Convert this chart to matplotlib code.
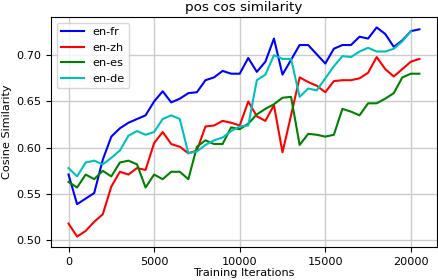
import numpy as np
import matplotlib
matplotlib.use("Agg")
import matplotlib.pyplot as plt

plt.rcParams.update({
    "font.family": "DejaVu Sans",
    "font.size": 8.1,
    "axes.titlesize": 9.7,
    "axes.labelsize": 8.1,
    "xtick.labelsize": 8.1,
    "ytick.labelsize": 8.1,
    "legend.fontsize": 8.1,
})

steps = np.arange(0, 20501, 500)

en_fr = [0.571, 0.539, 0.545, 0.551, 0.587, 0.612, 0.621, 0.627, 0.631, 0.635,
         0.650, 0.661, 0.649, 0.653, 0.659, 0.660, 0.673, 0.676, 0.683, 0.680,
         0.680, 0.697, 0.682, 0.693, 0.718, 0.679, 0.695, 0.711, 0.711, 0.701,
         0.691, 0.707, 0.711, 0.711, 0.720, 0.718, 0.730, 0.723, 0.709, 0.716,
         0.726, 0.728]
en_zh = [0.518, 0.504, 0.510, 0.520, 0.528, 0.558, 0.574, 0.571, 0.578, 0.576,
         0.605, 0.617, 0.604, 0.601, 0.594, 0.597, 0.623, 0.624, 0.629, 0.627,
         0.624, 0.650, 0.634, 0.629, 0.646, 0.595, 0.635, 0.676, 0.671, 0.667,
         0.660, 0.672, 0.673, 0.673, 0.675, 0.681, 0.698, 0.685, 0.677, 0.685,
         0.693, 0.696]
en_es = [0.563, 0.557, 0.571, 0.566, 0.575, 0.569, 0.584, 0.586, 0.582, 0.557,
         0.571, 0.566, 0.574, 0.574, 0.566, 0.601, 0.608, 0.604, 0.604, 0.622,
         0.620, 0.626, 0.636, 0.642, 0.647, 0.654, 0.655, 0.603, 0.615, 0.614,
         0.612, 0.614, 0.642, 0.639, 0.635, 0.648, 0.648, 0.653, 0.659, 0.676,
         0.680, 0.680]
en_de = [0.578, 0.569, 0.584, 0.586, 0.582, 0.589, 0.597, 0.613, 0.618, 0.614,
         0.617, 0.631, 0.635, 0.631, 0.594, 0.596, 0.603, 0.608, 0.611, 0.618,
         0.623, 0.624, 0.673, 0.679, 0.700, 0.696, 0.696, 0.655, 0.664, 0.662,
         0.675, 0.688, 0.699, 0.698, 0.704, 0.708, 0.704, 0.704, 0.707, 0.715,
         0.726]

fig = plt.figure(figsize=(4.38, 2.80), dpi=100)
ax = fig.add_axes([0.1164, 0.1179, 0.8813, 0.8214])

ax.plot(steps, en_fr, "b-", linewidth=1.5, label="en-fr")
ax.plot(steps, en_zh, "r-", linewidth=1.5, label="en-zh")
ax.plot(steps, en_es, "g-", linewidth=1.5, label="en-es")
ax.plot(steps[:len(en_de)], en_de, "c-", linewidth=1.5, label="en-de")

ax.set_xticks([0, 5000, 10000, 15000, 20000])
ax.set_yticks([0.50, 0.55, 0.60, 0.65, 0.70])
ax.grid(color="#cccccc", linewidth=1.0)
ax.set_axisbelow(True)
ax.set_xlabel("Training Iterations", labelpad=1)
ax.set_ylabel("Cosine Similarity", labelpad=3)
ax.set_title("pos cos similarity", pad=4)
ax.legend(loc="upper left")

fig.savefig("out.png", dpi=100)
